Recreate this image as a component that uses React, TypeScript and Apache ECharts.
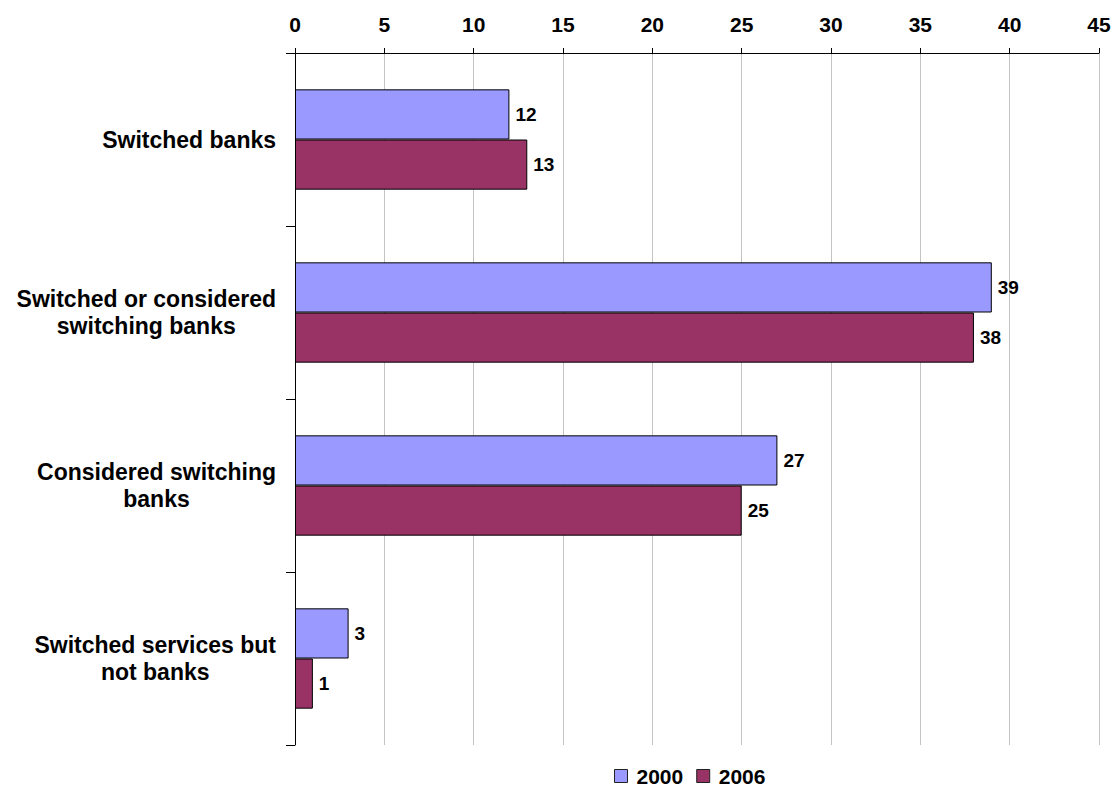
import React, { useEffect, useRef } from "react";
import * as echarts from "echarts";

const categories = [
  "Switched banks",
  "Switched or considered\nswitching banks",
  "Considered switching\nbanks",
  "Switched services but\nnot banks",
];
const values2000 = [12, 39, 27, 3];
const values2006 = [13, 38, 25, 1];
const seriesNames = ["2000", "2006"];

const FONT = 'Arial, "Liberation Sans", sans-serif';

export default function App() {
  const ref = useRef<HTMLDivElement>(null);
  useEffect(() => {
    if (!ref.current) return;
    const chart = echarts.init(ref.current, undefined, { renderer: "svg" });
    const labelStyle = {
      show: true,
      position: "right" as const,
      distance: 6,
      color: "#000",
      fontFamily: FONT,
      fontWeight: "bold" as const,
      fontSize: 19,
    };
    chart.setOption({
      animation: false,
      backgroundColor: "#fff",
      textStyle: { fontFamily: FONT },
      grid: { left: 295, right: 16, top: 53, bottom: 45, containLabel: false },
      legend: {
        data: seriesNames,
        top: 765,
        left: 614,
        padding: 0,
        itemWidth: 13,
        itemHeight: 13,
        itemGap: 13,
        icon: "rect",
        itemStyle: { borderColor: "#222", borderWidth: 1 },
        textStyle: {
          fontFamily: FONT,
          fontWeight: "bold",
          fontSize: 21,
          lineHeight: 22,
          color: "#000",
          padding: [0, 0, 0, 4],
        },
      },
      xAxis: {
        type: "value",
        position: "top",
        min: 0,
        max: 45,
        interval: 5,
        axisLine: { show: true, lineStyle: { color: "#000", width: 1 } },
        axisTick: { show: true, length: 5, lineStyle: { color: "#000" } },
        axisLabel: {
          margin: 18,
          color: "#000",
          fontFamily: FONT,
          fontWeight: "bold",
          fontSize: 21,
        },
        splitLine: { show: true, lineStyle: { color: "#c4c4c4", width: 1 } },
      },
      yAxis: {
        type: "category",
        inverse: true,
        data: categories,
        axisLine: { show: true, lineStyle: { color: "#000", width: 1 } },
        axisTick: { show: true, length: 9, lineStyle: { color: "#000" } },
        axisLabel: {
          margin: 19,
          align: "right",
          formatter: (v: string) =>
            v
              .split("\n")
              .map((l) => `{c|${l}}`)
              .join("\n"),
          rich: {
            c: {
              align: "center",
              fontFamily: FONT,
              fontWeight: "bold",
              fontSize: 23,
              lineHeight: 27,
              color: "#000",
            },
          },
        },
        splitLine: { show: false },
      },
      series: [
        {
          name: seriesNames[0],
          type: "bar",
          data: values2000,
          barGap: "0%",
          barCategoryGap: "42%",
          itemStyle: { color: "#9999ff", borderColor: "#000", borderWidth: 1 },
          label: labelStyle,
        },
        {
          name: seriesNames[1],
          type: "bar",
          data: values2006,
          barGap: "0%",
          barCategoryGap: "42%",
          itemStyle: { color: "#993366", borderColor: "#000", borderWidth: 1 },
          label: labelStyle,
        },
      ],
    });
    return () => chart.dispose();
  }, []);
  return (
    <div
      ref={ref}
      style={{ position: "fixed", left: 0, top: 0, width: 1115, height: 790, background: "#fff" }}
    />
  );
}
